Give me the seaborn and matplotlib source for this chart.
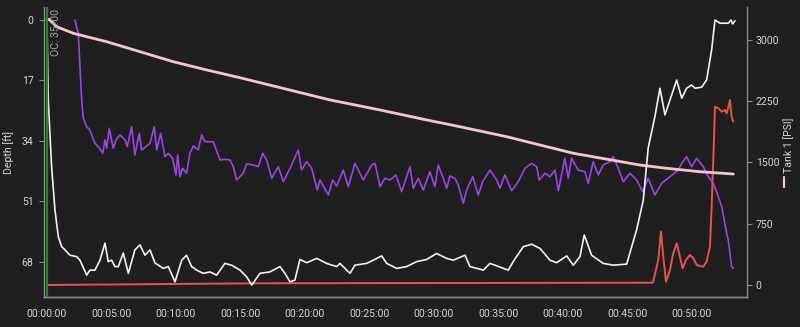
import numpy as np
import pandas as pd
import seaborn as sns
import matplotlib
matplotlib.use("Agg")
import matplotlib.pyplot as plt
from matplotlib.ticker import FuncFormatter, FixedLocator
from matplotlib.lines import Line2D

# ---------------- data (time in minutes) ----------------
depth_t = [0, 0.10, 0.36, 0.62, 0.88, 1.14, 1.40, 1.78, 2.30, 2.56, 3.08, 3.33, 3.72, 4.11, 4.50, 4.75,
           5.02, 5.27, 5.53, 5.92, 6.31, 6.82, 7.21, 7.60, 7.99, 8.38, 9.02, 9.41, 9.93, 10.45, 10.83,
           11.22, 11.61, 12.12, 12.64, 13.16, 13.80, 14.32, 14.97, 15.49, 15.88, 16.52, 17.29, 18.07,
           18.46, 18.85, 19.23, 19.62, 20.14, 20.92, 21.69, 22.47, 22.72, 23.50, 23.89, 24.79, 25.31,
           25.96, 26.35, 27.12, 27.90, 28.67, 29.45, 30.22, 31.00, 31.51, 32.42, 32.81, 33.84, 34.36,
           35.78, 36.16, 36.94, 37.59, 38.24, 39.01, 39.53, 40.31, 40.82, 41.34, 41.67, 42.24, 43.14,
           43.92, 44.96, 45.73, 46.25, 46.63, 47.15, 47.54, 47.93, 48.32, 48.84, 49.23, 49.61, 50.00,
           50.26, 50.78, 51.16, 51.55, 51.81, 52.20, 52.84, 53.05, 53.18, 53.36]
depth_ft = [0, 22.5, 41.3, 53.5, 61.0, 63.8, 64.7, 66.2, 66.6, 67.6, 71.8, 70.4, 70.4, 67.6, 62.8, 68.0,
            67.6, 69.4, 69.4, 65.6, 71.3, 64.7, 63.3, 66.2, 64.7, 68.4, 69.9, 69.4, 73.7, 67.6, 66.2,
            69.4, 70.4, 71.3, 70.9, 71.8, 68.5, 69.0, 70.4, 72.3, 74.6, 71.3, 70.9, 69.4,
            71.3, 73.7, 73.2, 67.4, 68.3, 67.1, 68.5, 69.4, 68.5, 71.3, 69.0, 68.5, 67.6,
            66.4, 68.5, 69.9, 69.4, 68.0, 67.4, 65.7, 67.1, 67.6, 66.2, 69.4, 70.4, 68.5,
            70.4, 68.0, 63.8, 63.1, 64.3, 67.6, 68.3, 66.4, 69.0, 66.6, 60.5, 66.2, 68.5,
            69.0, 68.7, 59.1, 50.7, 36.0, 27.2, 19.2, 26.7, 22.5, 16.9, 22.0, 19.2, 18.3,
            19.2, 18.9, 16.9, 8.4, 0.0, 0.9, 0.9, 0.0, 1.1, 0.2]

tank_t = [0, 0.23, 0.75, 2.04, 4.63, 7.21, 9.80, 12.39, 14.97, 21.95, 25.83, 29.45, 32.03, 35.65,
          40.82, 45.99, 48.06, 50.64, 53.23]
tank_psi = [3260, 3245, 3163, 3082, 2979, 2857, 2734, 2633, 2538, 2266, 2143, 2021, 1938, 1816,
            1613, 1469, 1429, 1387, 1359]

purple_t = [2.17, 2.43, 2.56, 2.69, 2.82, 3.08, 3.33, 3.72, 3.98, 4.32, 4.50, 4.63, 4.83, 5.14, 5.35,
            5.66, 6.05, 6.23, 6.57, 6.82, 7.16, 7.34, 7.68, 7.99, 8.32, 8.51, 8.82, 9.15, 9.41, 9.75,
            10.00, 10.14, 10.31, 10.52, 10.83, 11.09, 11.35, 11.73, 12.00, 12.25, 12.90, 13.42, 13.80,
            14.19, 14.45, 14.71, 15.22, 15.49, 16.00, 16.39, 16.73, 17.04, 17.43, 17.94, 18.33, 18.85,
            19.49, 19.75, 20.14, 20.53, 20.96, 21.17, 21.82, 22.16, 22.47, 22.98, 23.37, 23.89, 24.53,
            25.18, 25.44, 25.83, 26.21, 26.60, 27.07, 27.51, 28.15, 28.41, 28.80, 29.18, 29.70, 30.09,
            30.35, 30.74, 31.00, 31.26, 31.64, 31.90, 32.29, 32.55, 33.02, 33.45, 33.79, 34.36, 34.88,
            35.13, 35.52, 36.04, 36.55, 37.07, 37.59, 37.98, 38.18, 38.62, 39.01, 39.40, 39.66, 40.17,
            40.43, 40.69, 41.20, 41.72, 41.98, 42.37, 42.76, 43.14, 43.66, 43.92, 44.31, 44.70, 45.22,
            45.73, 46.20, 46.63, 47.15, 47.67, 48.32, 48.96, 49.23, 49.61, 50.00, 50.39, 50.90, 51.29,
            51.68, 52.07, 52.33, 52.72, 52.84, 53.10, 53.23]
purple_v = [3245, 3082, 2673, 2265, 2041, 1938, 1898, 1735, 1694, 1613, 1776, 1674, 1919, 1674, 1776,
            1837, 1776, 1694, 1938, 1592, 1858, 1653, 1694, 1735, 1938, 1653, 1858, 1571, 1613, 1551,
            1347, 1592, 1326, 1429, 1368, 1613, 1702, 1653, 1837, 1755, 1755, 1531, 1539,
            1531, 1449, 1286, 1368, 1482, 1469, 1449, 1613, 1531, 1307, 1449, 1265, 1429,
            1653, 1408, 1510, 1429, 1163, 1286, 1102, 1286, 1212, 1408, 1204, 1490, 1286,
            1469, 1490, 1204, 1307, 1286, 1347, 1142, 1449, 1184, 1307, 1163, 1387, 1204,
            1469, 1307, 1184, 1335, 1307, 1225, 1000, 1163, 1326, 1102, 1265, 1408, 1286,
            1184, 1347, 1155, 1265, 1429, 1490, 1449, 1286, 1368, 1326, 1408, 1155, 1551,
            1307, 1551, 1408, 1387, 1245, 1510, 1347, 1469, 1510, 1571, 1429, 1265, 1368,
            1286, 1142, 1307, 1102, 1245, 1326, 1408, 1490, 1571, 1449, 1551, 1449, 1326,
            1245, 1081, 959, 633, 551, 224, 204]

red_t = [0, 16.52, 47.0, 47.41, 47.62, 47.80, 48.01, 48.32, 48.57, 48.84, 49.09, 49.30, 49.56, 49.87,
         50.13, 50.39, 50.90, 51.16, 51.42, 51.55, 51.68, 51.81, 52.07, 52.33, 52.58, 52.72, 52.89,
         52.97, 53.10, 53.23]
red_v = [0, 21, 28, 306, 653, 347, 40, 184, 388, 511, 347, 204, 306, 367,
         327, 245, 224, 285, 469, 959, 1531, 2183, 2164, 2122, 2143, 2102, 2204,
         2265, 2061, 2000]

depth_ticks = [0, 17, 34, 51, 68]
psi_ticks = [0, 750, 1500, 2250, 3000]
time_ticks = [0, 5, 10, 15, 20, 25, 30, 35, 40, 45, 50]
gas_label = "OC: 35/00"

# ---------------- styling ----------------
BG = "#1f1f1f"
FG = "#d6d6d6"
SPINE = "#8a8a8a"
FS = 7.6
sns.set_theme(style="dark", rc={
    "figure.facecolor": BG, "axes.facecolor": BG, "savefig.facecolor": BG,
    "axes.edgecolor": SPINE, "text.color": FG, "axes.labelcolor": FG,
    "xtick.color": FG, "ytick.color": FG,
})
plt.rcParams["font.family"] = ["Roboto", "DejaVu Sans"]

fig = plt.figure(figsize=(8, 3.27), dpi=100)
ax = fig.add_axes([44 / 800, 30 / 327, 702.7 / 800, 290 / 327])
ax2 = ax.twinx()

df_depth = pd.DataFrame({"t": depth_t, "v": depth_ft})
df_tank = pd.DataFrame({"t": tank_t, "v": tank_psi})
df_purple = pd.DataFrame({"t": purple_t, "v": purple_v})
df_red = pd.DataFrame({"t": red_t, "v": red_v})

sns.lineplot(data=df_red, x="t", y="v", ax=ax2, color="#e8534f", lw=1.4, estimator=None, sort=False)
sns.lineplot(data=df_purple, x="t", y="v", ax=ax2, color="#9b45e6", lw=1.2, estimator=None, sort=False)
sns.lineplot(data=df_tank, x="t", y="v", ax=ax2, color="#f6c6cc", lw=2.0, estimator=None, sort=False)
sns.lineplot(data=df_depth, x="t", y="v", ax=ax, color="#f2f2f2", lw=1.2, estimator=None, sort=False)

ax.set_zorder(ax2.get_zorder() + 1)
ax.patch.set_visible(False)

# gas switch marker
ax.axvline(0, color="#1e8c1e", lw=1.6, zorder=5)
ax.text(0.3, -3.2, gas_label, rotation=90, ha="left", va="top", color="#a8a8a8", fontsize=FS)

# axes limits
ax.set_xlim(-0.23, 54.27)
ax.set_ylim(77.96, -3.66)
ax2.set_ylim(-147, 3404)

fmt = FuncFormatter(lambda v, p: f"{int(v // 60):02d}:{int(v % 60):02d}:00")
ax.xaxis.set_major_locator(FixedLocator(time_ticks))
ax.xaxis.set_major_formatter(fmt)
ax.yaxis.set_major_locator(FixedLocator(depth_ticks))
ax2.yaxis.set_major_locator(FixedLocator(psi_ticks))

for a in (ax, ax2):
    a.grid(False)
    a.tick_params(labelsize=FS, colors=FG, length=3.5, width=0.8, direction="out")
    a.tick_params(axis="both", color=SPINE)
    a.spines["top"].set_visible(False)
    for s in ("left", "right", "bottom"):
        a.spines[s].set_color(SPINE)
        a.spines[s].set_linewidth(1.0)
ax.spines["right"].set_visible(False)
ax2.spines["left"].set_visible(False)
ax.tick_params(axis="x", pad=5)
ax.tick_params(axis="y", pad=4, left=True)
ax2.tick_params(axis="y", pad=3, right=True)

ax.set_xlabel("")
ax.set_ylabel("Depth [ft]", fontsize=FS, color=FG)
ax.yaxis.set_label_coords(-0.043, 0.5)
ax2.set_xlabel("")
ax2.set_ylabel("Tank 1 [PSI]", fontsize=FS, color=FG, rotation=90)
ax2.yaxis.set_label_coords(1.052, 0.522)
ax2.add_line(Line2D([1.0525, 1.0525], [0.379, 0.414], transform=ax2.transAxes,
                    color="#f6c6cc", lw=1.6, clip_on=False))

fig.savefig("out.png", dpi=100, facecolor=BG)
